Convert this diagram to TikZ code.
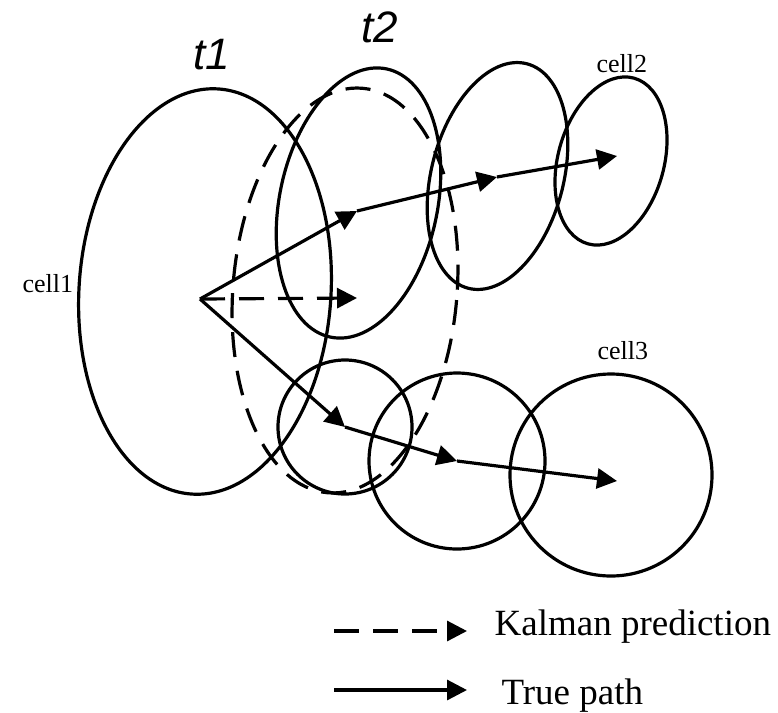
\documentclass[tikz,border=0pt]{standalone}
\usepackage{fontspec}
\setmainfont{Liberation Serif}
\newfontfamily\arialfont{Liberation Sans}
\usetikzlibrary{arrows.meta}
\begin{document}
\begin{tikzpicture}[x=1pt,y=-1pt,line width=3.2pt,
  tip/.style={-{Triangle[length=20pt,width=20pt]}},
  dsh/.style={dash pattern=on 25pt off 14pt},
  lbl/.style={font=\fontsize{26}{26}\selectfont,inner sep=0pt,anchor=base west},
  tlbl/.style={font=\arialfont\itshape\fontsize{44}{44}\selectfont,inner sep=0pt},
  leg/.style={font=\fontsize{37}{37}\selectfont,inner sep=0pt,anchor=base west}]
\useasboundingbox (0,0) rectangle (778,712);
% ellipses
\draw[rotate around={-3.7:(205,291.5)}] (205,291.5) ellipse [x radius=126, y radius=203];
\draw[dsh,rotate around={-4.9:(345,290.5)}] (345,290.5) ellipse [x radius=112, y radius=203];
\draw[rotate around={-11.8:(358.5,203)}] (358.5,203) ellipse [x radius=79, y radius=137];
\draw[rotate around={-14.7:(497.5,176)}] (497.5,176) ellipse [x radius=66, y radius=116];
\draw[rotate around={-15.5:(611,161)}] (611,161) ellipse [x radius=53, y radius=86];
% circles
\draw (345,427) circle [radius=67];
\draw (457,461) circle [radius=88];
\draw (611,475) circle [radius=101];
% coordinates
\coordinate (p0) at (200,299);
\coordinate (a1) at (357,211);
\coordinate (a2) at (497,177);
\coordinate (a3) at (617,156);
\coordinate (b1) at (345,427);
\coordinate (b2) at (457,461);
\coordinate (b3) at (617,481);
\coordinate (k1) at (357,298);
% arrows
\draw[tip] (p0) -- (a1);
\draw[tip] (a1) -- (a2);
\draw[tip] (a2) -- (a3);
\draw[tip] (p0) -- (b1);
\draw[tip] (b1) -- (b2);
\draw[tip] (b2) -- (b3);
\draw[tip,dsh] (p0) -- (k1);
% labels
\node[tlbl] (t1) at (212,55) {t1};
\node[tlbl] (t2) at (380,27) {t2};
\node[lbl] (c1) at (21,292) {cell1};
\node[lbl] (c2) at (595,72) {cell2};
\node[lbl] (c3) at (596,359) {cell3};
% legend
\coordinate (l1s) at (334,631);
\coordinate (l1e) at (467,631);
\coordinate (l2s) at (334,690);
\coordinate (l2e) at (467,690);
\draw[tip,dsh] (l1s) -- (l1e);
\draw[tip] (l2s) -- (l2e);
\node[leg] (kp) at (493,635) {Kalman prediction};
\node[leg] (tp) at (500,704) {True path};
\end{tikzpicture}
\end{document}
